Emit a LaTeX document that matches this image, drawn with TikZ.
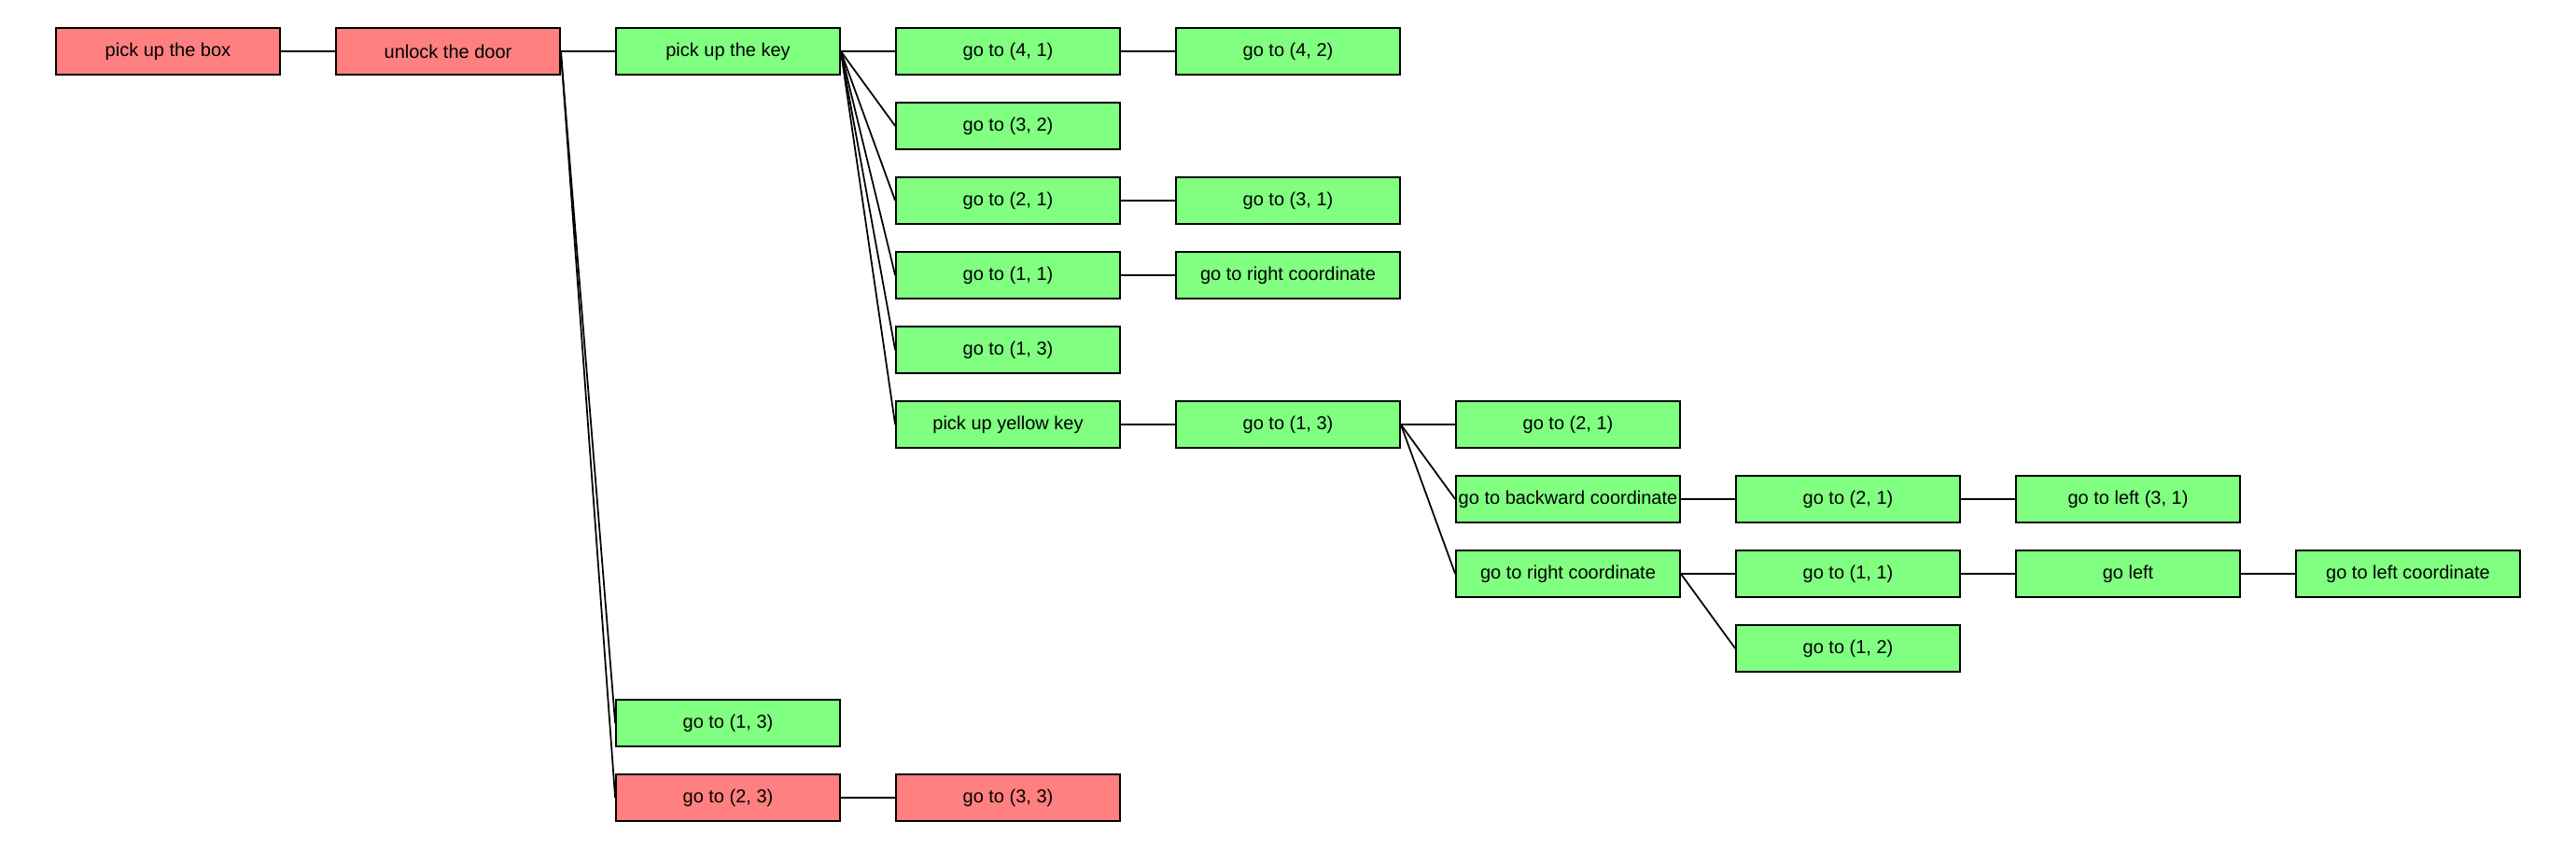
\documentclass[tikz,border=0pt]{standalone}
\usepackage{fontspec}
\setmainfont{Liberation Sans}
\usepackage{xcolor}
\usetikzlibrary{positioning}
\definecolor{failred}{RGB}{255,128,128}
\definecolor{donegreen}{RGB}{128,255,128}

\begin{document}
\begin{tikzpicture}[
  task/.style={draw=black, line width=0.5pt, minimum width=2.4cm, minimum height=0.5cm, inner sep=0pt, font=\fontsize{5.69}{7}\selectfont},
  failed/.style={task, fill=failred},
  done/.style={task, fill=donegreen},
  link/.style={black, line width=0.5pt}
]
\useasboundingbox (0,0) rectangle (27.6,-9.1);
% row 0
\node[failed] (box)   at (1.8,-0.55)  {pick up the box};
\node[failed] (door)  at (4.8,-0.55)  {unlock the door};
\node[done]   (key)   at (7.8,-0.55)  {pick up the key};
\node[done]   (g41)   at (10.8,-0.55) {go to (4, 1)};
\node[done]   (g42)   at (13.8,-0.55) {go to (4, 2)};
% rows 1-4
\node[done]   (g32)   at (10.8,-1.35) {go to (3, 2)};
\node[done]   (g21)   at (10.8,-2.15) {go to (2, 1)};
\node[done]   (g31)   at (13.8,-2.15) {go to (3, 1)};
\node[done]   (g11)   at (10.8,-2.95) {go to (1, 1)};
\node[done]   (right) at (13.8,-2.95) {go to right coordinate};
\node[done]   (g13)   at (10.8,-3.75) {go to (1, 3)};
% yellow key branch
\node[done]   (yellow)  at (10.8,-4.55) {pick up yellow key};
\node[done]   (yg13)    at (13.8,-4.55) {go to (1, 3)};
\node[done]   (yg21)    at (16.8,-4.55) {go to (2, 1)};
\node[done]   (back)    at (16.8,-5.35) {go to backward coordinate};
\node[done]   (bg21)    at (19.8,-5.35) {go to (2, 1)};
\node[done]   (left31)  at (22.8,-5.35) {go to left (3, 1)};
\node[done]   (yright)  at (16.8,-6.15) {go to right coordinate};
\node[done]   (rg11)    at (19.8,-6.15) {go to (1, 1)};
\node[done]   (goleft)  at (22.8,-6.15) {go left};
\node[done]   (leftco)  at (25.8,-6.15) {go to left coordinate};
\node[done]   (rg12)    at (19.8,-6.95) {go to (1, 2)};
% bottom rows
\node[done]   (dg13)  at (7.8,-7.75)  {go to (1, 3)};
\node[failed] (dg23)  at (7.8,-8.55)  {go to (2, 3)};
\node[failed] (dg33)  at (10.8,-8.55) {go to (3, 3)};
% links
\draw[link] (box.east) -- (door.west);
\draw[link] (door.east) -- (key.west);
\draw[link] (door.east) -- (dg13.west);
\draw[link] (door.east) -- (dg23.west);
\draw[link] (dg23.east) -- (dg33.west);
\foreach \child in {g41,g32,g21,g11,g13,yellow}
  \draw[link] (key.east) -- (\child.west);
\draw[link] (g41.east) -- (g42.west);
\draw[link] (g21.east) -- (g31.west);
\draw[link] (g11.east) -- (right.west);
\draw[link] (yellow.east) -- (yg13.west);
\foreach \child in {yg21,back,yright}
  \draw[link] (yg13.east) -- (\child.west);
\draw[link] (back.east) -- (bg21.west);
\draw[link] (bg21.east) -- (left31.west);
\draw[link] (yright.east) -- (rg11.west);
\draw[link] (yright.east) -- (rg12.west);
\draw[link] (rg11.east) -- (goleft.west);
\draw[link] (goleft.east) -- (leftco.west);
\end{tikzpicture}
\end{document}
